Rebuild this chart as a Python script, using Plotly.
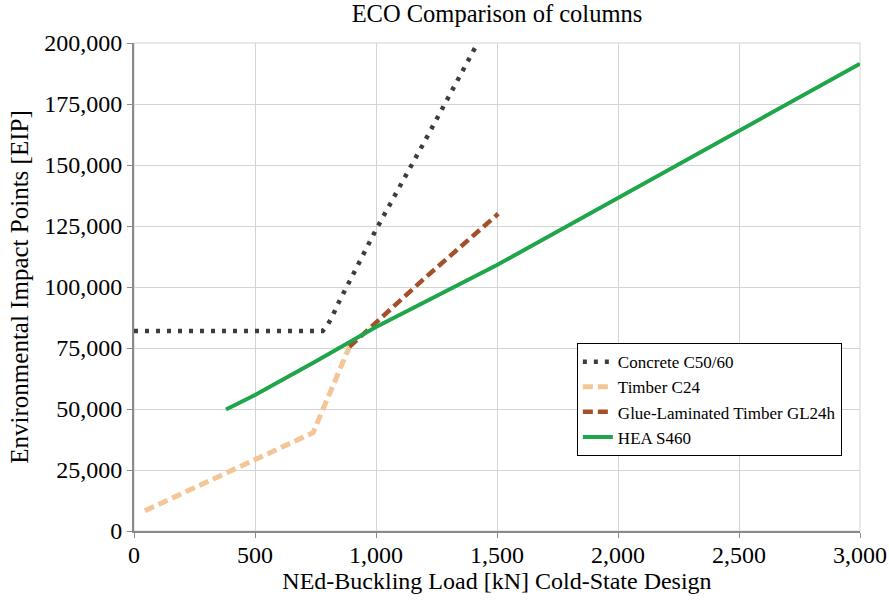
import plotly.graph_objects as go

# Data
concrete_x = [0, 780, 800, 820, 840, 1000, 1200, 1420]
concrete_y = [82000, 82000, 84500, 88000, 92500, 123500, 159500, 200000]

timber_x = [45, 740, 890]
timber_y = [8300, 40300, 75500]

glulam_x = [890, 1000, 1200, 1505]
glulam_y = [75500, 85500, 103500, 130000]

hea_x = [380, 500, 750, 1000, 1500, 2000, 2500, 3000]
hea_y = [49800, 55700, 69500, 83600, 109000, 136500, 164000, 191500]

x_ticks = [0, 500, 1000, 1500, 2000, 2500, 3000]
y_ticks = [0, 25000, 50000, 75000, 100000, 125000, 150000, 175000, 200000]

FONT = "Liberation Serif"

fig = go.Figure()
fig.add_trace(go.Scatter(x=concrete_x, y=concrete_y, mode="lines", name="Concrete C50/60",
                         line=dict(color="#3d3d3d", width=4.5, dash="4px,7px")))
fig.add_trace(go.Scatter(x=timber_x, y=timber_y, mode="lines", name="Timber C24",
                         line=dict(color="#f3c597", width=5, dash="10px,5px")))
fig.add_trace(go.Scatter(x=glulam_x, y=glulam_y, mode="lines", name="Glue-Laminated Timber GL24h",
                         line=dict(color="#a4502a", width=4.5, dash="10px,5px")))
fig.add_trace(go.Scatter(x=hea_x, y=hea_y, mode="lines", name="HEA S460",
                         line=dict(color="#1fa64b", width=4)))

fig.update_layout(
    width=889, height=601,
    margin=dict(l=134, r=29, t=43, b=70),
    paper_bgcolor="white", plot_bgcolor="white",
    font=dict(family=FONT, color="black"),
    title=dict(text="ECO Comparison of columns", x=0.559, xanchor="center",
               xref="container", yref="container",
               y=0.978, yanchor="middle", font=dict(size=24.5, family=FONT)),
    legend=dict(x=0.61, y=0.385, xanchor="left", yanchor="top",
                bordercolor="black", borderwidth=1, bgcolor="white",
                font=dict(size=17, family=FONT), tracegroupgap=0, itemwidth=30),
    xaxis=dict(range=[0, 3000], tickvals=x_ticks, tickformat=",d",
               showgrid=True, gridcolor="#d4d4d4", gridwidth=1,
               showline=True, linecolor="#8a8a8a", linewidth=2,
               ticks="outside", ticklen=5, tickcolor="#8a8a8a",
               tickfont=dict(size=24, family=FONT), zeroline=False,
               automargin=False, ticklabelstandoff=-4,
               title=dict(text="NEd-Buckling Load [kN] Cold-State Design",
                          font=dict(size=24, family=FONT), standoff=4)),
    yaxis=dict(range=[0, 200000], tickvals=y_ticks, tickformat=",d",
               showgrid=True, gridcolor="#d4d4d4", gridwidth=1,
               showline=True, linecolor="#8a8a8a", linewidth=2,
               ticks="outside", ticklen=5, tickcolor="#8a8a8a",
               tickfont=dict(size=24, family=FONT), zeroline=False,
               automargin=False,
               title=dict(text="Environmental Impact Points [EIP]",
                          font=dict(size=25, family=FONT), standoff=8)),
)
fig.add_shape(type="rect", xref="paper", yref="paper", x0=0, x1=1, y0=0, y1=1,
              line=dict(color="#d4d4d4", width=1), layer="below")

fig.write_html("out.html", config={"displayModeBar": False},
               post_script="document.body.style.margin='0';")
